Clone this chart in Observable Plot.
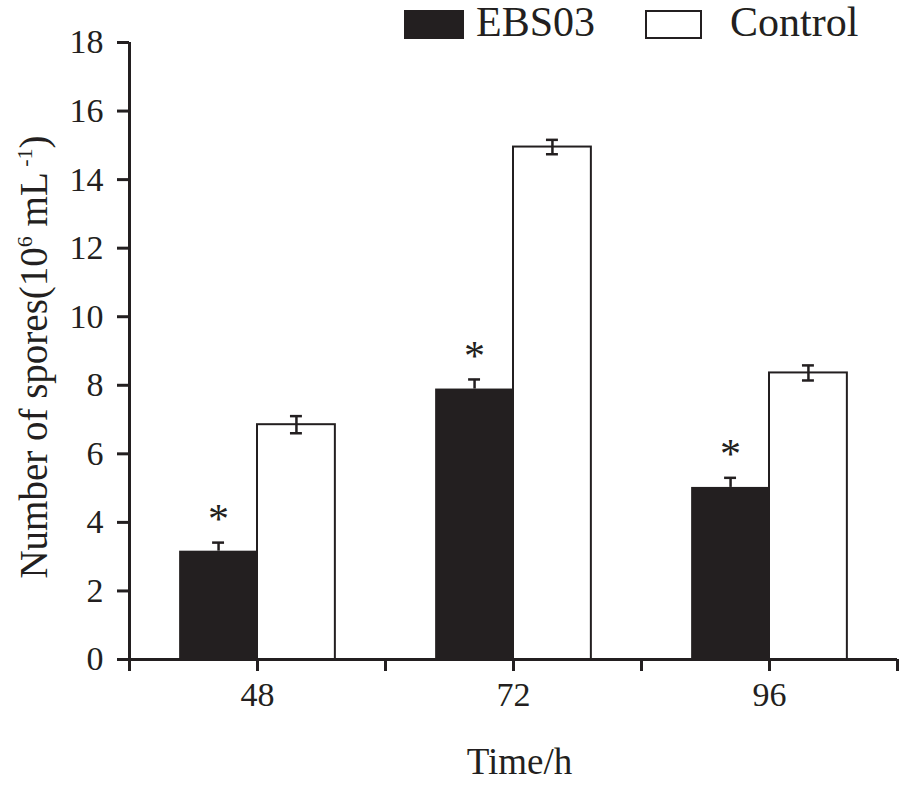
<!DOCTYPE html>
<html>
<head>
<meta charset="utf-8">
<script src="https://cdn.jsdelivr.net/npm/d3@7"></script>
<script src="https://cdn.jsdelivr.net/npm/@observablehq/plot@0.6"></script>
<style>
  body { margin: 0; background: #fff; }
  #wrap { position: relative; width: 899px; height: 797px; font-family: 'Liberation Serif', 'Times New Roman', serif; color: #231f20; }
  #legend { position: absolute; left: 0; top: 0; width: 899px; height: 45px; z-index: 2; }
  .sw { position: absolute; top: 10px; height: 29px; box-sizing: border-box; }
  .lt { position: absolute; top: 4px; font-size: 42px; line-height: 0.9; white-space: nowrap; }
  svg text { font-family: 'Liberation Serif', 'Times New Roman', serif; }
</style>
</head>
<body>
<div id="wrap">
  <div id="legend"></div>
</div>
<script>
// ---- data ----
const times = [48, 72, 96];
const series = ["EBS03", "Control"];
const ebsValues = [3.16, 7.89, 5.02];
const ebsErrors = [0.25, 0.28, 0.28];
const controlValues = [6.85, 14.95, 8.36];
const controlErrors = [0.25, 0.21, 0.22];
const yTicks = [0, 2, 4, 6, 8, 10, 12, 14, 16, 18];
const xTicks = [36, 48, 60, 72, 84, 96, 108];
const significant = [true, true, true];

// ---- style constants (sizes in axis units) ----
const ink = "#231f20";
const serif = "'Liberation Serif', 'Times New Roman', serif";
const barW = 7.3;   // bar width in hours
const capW = 0.56;  // half cap width in hours

const ebsRows = times.map((t, i) => ({time: t, value: ebsValues[i], err: ebsErrors[i], sig: significant[i]}));
const ctlRows = times.map((t, i) => ({time: t, value: controlValues[i], err: controlErrors[i]}));

const ebsX = d => d.time - barW / 2;
const ctlX = d => d.time + barW / 2;

const chart = Plot.plot({
  width: 899,
  height: 797,
  marginTop: 42,
  marginBottom: 138,
  marginLeft: 129,
  marginRight: 2,
  style: { fontFamily: serif, fontSize: "34px", color: ink, background: "transparent", overflow: "visible" },
  x: { domain: [36, 108] },
  y: { domain: [0, 18] },
  marks: [
    // bars
    Plot.rectY(ebsRows, { x1: d => d.time - barW, x2: d => d.time, y1: 0, y2: "value", fill: ink }),
    Plot.rectY(ctlRows, { x1: d => d.time, x2: d => d.time + barW, y1: 0, y2: "value", fill: "white", stroke: ink, strokeWidth: 2 }),
    // error bars EBS03 (upper only)
    Plot.ruleX(ebsRows, { x: ebsX, y1: "value", y2: d => d.value + d.err, stroke: ink, strokeWidth: 2.5 }),
    Plot.ruleY(ebsRows, { y: d => d.value + d.err, x1: d => ebsX(d) - capW, x2: d => ebsX(d) + capW, stroke: ink, strokeWidth: 2.5 }),
    // error bars Control (both sides)
    Plot.ruleX(ctlRows, { x: ctlX, y1: d => d.value - d.err, y2: d => d.value + d.err, stroke: ink, strokeWidth: 2.5 }),
    Plot.ruleY(ctlRows, { y: d => d.value + d.err, x1: d => ctlX(d) - capW, x2: d => ctlX(d) + capW, stroke: ink, strokeWidth: 2.5 }),
    Plot.ruleY(ctlRows, { y: d => d.value - d.err, x1: d => ctlX(d) - capW, x2: d => ctlX(d) + capW, stroke: ink, strokeWidth: 2.5 }),
    // significance asterisks
    Plot.text(ebsRows.filter(d => d.sig), { x: ebsX, y: d => d.value + d.err, text: () => "*", dy: -23, fontSize: 42, fill: ink, fontFamily: serif }),
    // axes
    Plot.axisY({ ticks: yTicks, tickSize: 12, tickPadding: 14, strokeWidth: 3, stroke: ink, fill: ink, fontSize: 34, fontFamily: serif, label: null }),
    Plot.axisX({ ticks: xTicks, tickSize: 12, tickPadding: 10, strokeWidth: 3, stroke: ink, fill: ink, fontSize: 34, fontFamily: serif, label: null,
                 tickFormat: d => times.includes(d) ? String(d) : "" }),
    Plot.ruleX([36], { stroke: ink, strokeWidth: 3 }),
    Plot.ruleY([0], { stroke: ink, strokeWidth: 3 }),
    // x axis title
    Plot.text(["Time/h"], { frameAnchor: "bottom", dx: 6, dy: 114, fontSize: 37, fill: ink, fontFamily: serif })
  ]
});

// y axis title with superscripts
const svg = d3.select(chart);
const yt = svg.append("text")
  .attr("transform", "translate(47,357) rotate(-90)")
  .attr("text-anchor", "middle")
  .attr("font-size", 39)
  .attr("fill", ink)
  .style("font-family", serif);
yt.append("tspan").text("Number of spores(10");
yt.append("tspan").attr("font-size", 22).attr("dy", -15).text("6");
yt.append("tspan").attr("dy", 15).text(" mL");
yt.append("tspan").attr("font-size", 22).attr("dy", -15).text(" -1");
yt.append("tspan").attr("dy", 15).text(")");

const wrap = document.getElementById("wrap");
wrap.appendChild(chart);

// legend (HTML, above the plot)
const legend = document.getElementById("legend");
const items = [
  { name: series[0], sx: 404, sw: 60, fill: ink, border: "none", tx: 476 },
  { name: series[1], sx: 645, sw: 57, fill: "#fff", border: "2px solid " + ink, tx: 730 }
];
for (const it of items) {
  const s = document.createElement("div");
  s.className = "sw";
  s.style.left = it.sx + "px";
  s.style.width = it.sw + "px";
  s.style.background = it.fill;
  s.style.border = it.border;
  legend.appendChild(s);
  const t = document.createElement("div");
  t.className = "lt";
  t.style.left = it.tx + "px";
  t.textContent = it.name;
  legend.appendChild(t);
}
</script>
</body>
</html>
